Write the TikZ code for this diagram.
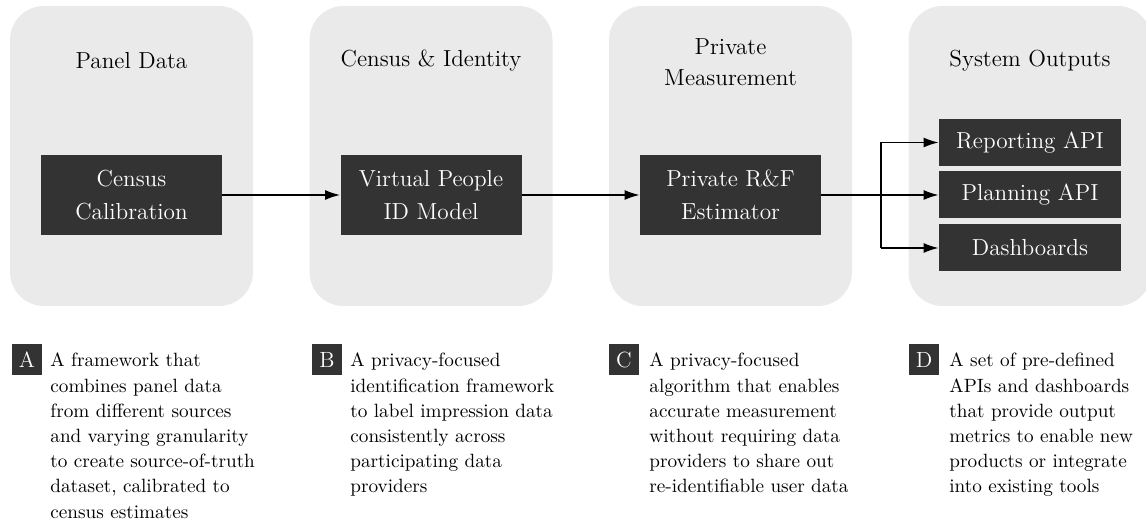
\documentclass[tikz,border=0pt]{standalone}
\usetikzlibrary{arrows.meta}
\definecolor{panelgray}{HTML}{EAEAEA}
\definecolor{boxdark}{HTML}{333333}
\begin{document}
\begin{tikzpicture}[x=0.5pt,y=-0.5pt,
  panel/.style={fill=panelgray, draw=none, rounded corners=17pt,
    minimum width=121.5pt, minimum height=150pt, inner sep=0pt},
  title/.style={align=center, font=\fontsize{11.6}{15.5}\selectfont},
  stage/.style={fill=boxdark, text=white, align=center, inner sep=0pt,
    minimum width=90.5pt, minimum height=40pt,
    font=\fontsize{11.6}{16.5}\selectfont},
  outbox/.style={fill=boxdark, text=white, inner sep=0pt,
    minimum width=91pt, minimum height=23.5pt,
    font=\fontsize{11.6}{14}\selectfont},
  tag/.style={fill=boxdark, text=white, inner sep=0pt,
    minimum width=15pt, minimum height=15.5pt,
    font=\fontsize{11}{13}\selectfont},
  desc/.style={anchor=north west, align=left, inner sep=0pt,
    font=\fontsize{9.6}{12.6}\selectfont},
  flow/.style={line width=0.75pt, -{Latex[length=7.5pt,width=5pt]}},
  link/.style={line width=0.75pt}
]
\useasboundingbox (0,0) rectangle (1146,522);
\clip (0,0) rectangle (1146,522);

% background panels
\node[panel] (p1) at (131.5,156) {};
\node[panel] (p2) at (431,156) {};
\node[panel] (p3) at (730.5,156) {};
\node[panel] (p4) at (1030,156) {};

% panel headings
\node[title] (t1) at (131.5,61) {Panel Data};
\node[title] (t2) at (431,61) {Census \& Identity};
\node[title] (t3) at (730.5,62) {Private\\Measurement};
\node[title] (t4) at (1030,61) {System Outputs};

% processing stages
\node[stage] (cc) at (131.5,195) {Census\\Calibration};
\node[stage] (vp) at (431,195) {Virtual People\\ID Model};
\node[stage] (rf) at (730.5,195) {Private R\&F\\Estimator};

% outputs
\node[outbox] (rep) at (1030,142.5) {Reporting API};
\node[outbox] (plan) at (1030,195) {Planning API};
\node[outbox] (dash) at (1030,248) {Dashboards};

% connectors
\draw[flow] (cc.east) -- (vp.west);
\draw[flow] (vp.east) -- (rf.west);
\draw[flow] (rf.east) -- (plan.west);
\coordinate (br) at (881,195);
\draw[link] (br) -- (br |- rep.west);
\draw[link] (br) -- (br |- dash.west);
\draw[flow] (br |- rep.west) -- (rep.west);
\draw[flow] (br |- dash.west) -- (dash.west);

% descriptions
\node[tag] (la) at (27,359.5) {A};
\node[tag] (lb) at (327,359.5) {B};
\node[tag] (lc) at (624,359.5) {C};
\node[tag] (ld) at (924,359.5) {D};

\node[desc] (da) at (50,352.7) {A framework that\\combines panel data\\from different sources\\and varying granularity\\to create source-of-truth\\dataset, calibrated to\\census estimates};
\node[desc] (db) at (350,352.7) {A privacy-focused\\identification framework\\to label impression data\\consistently across\\participating data\\providers};
\node[desc] (dc) at (649,352.7) {A privacy-focused\\algorithm that enables\\accurate measurement\\without requiring data\\providers to share out\\re-identifiable user data};
\node[desc] (dd) at (949,352.7) {A set of pre-defined\\APIs and dashboards\\that provide output\\metrics to enable new\\products or integrate\\into existing tools};
\end{tikzpicture}
\end{document}
